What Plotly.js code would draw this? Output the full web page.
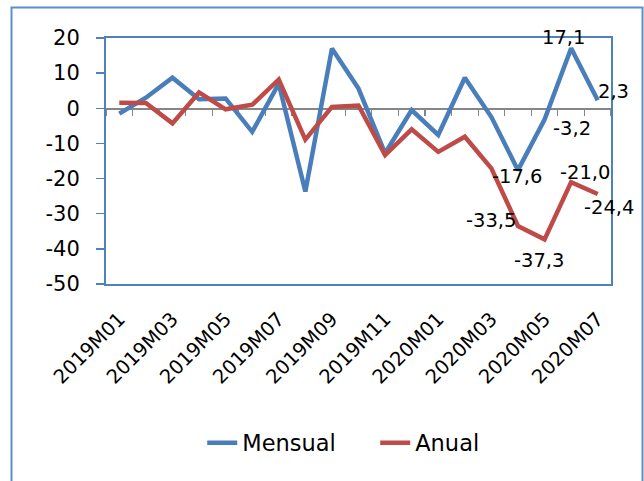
<!DOCTYPE html>
<html>
<head>
<meta charset="utf-8">
<script src="https://cdn.plot.ly/plotly-3.0.1.min.js"></script>
<style>html,body{margin:0;padding:0;background:#fff;}#chart{width:644px;height:481px;}</style>
</head>
<body>
<div id="chart"></div>
<script>
// ---- data ----
var categories = ["2019M01","2019M02","2019M03","2019M04","2019M05","2019M06","2019M07","2019M08","2019M09","2019M10","2019M11","2019M12","2020M01","2020M02","2020M03","2020M04","2020M05","2020M06","2020M07"];
var mensual = [-1.5, 3.0, 8.7, 2.6, 2.8, -6.7, 7.0, -23.7, 17.0, 5.6, -12.8, -0.5, -7.6, 8.7, -2.5, -17.6, -3.2, 17.1, 2.3];
var anual   = [1.6, 1.5, -4.3, 4.5, -0.3, 1.0, 8.2, -8.9, 0.4, 0.8, -13.3, -6.0, -12.4, -8.1, -17.1, -33.5, -37.3, -21.0, -24.4];
var tickLabels = ["2019M01","2019M03","2019M05","2019M07","2019M09","2019M11","2020M01","2020M03","2020M05","2020M07"];
var yTicks = [-50, -40, -30, -20, -10, 0, 10, 20];
var labeledIdxMensual = [15, 16, 17, 18];
var labeledIdxAnual = [15, 16, 17, 18];

// ---- styling ----
var FONT = "DejaVu Sans";
var BLUE = "#4A7EBB", RED = "#BE4B48", AXIS = "#4F81BD";
var offM = {15: [-1, -6], 16: [27, -9], 17: [-8, 11], 18: [16, 9]};
var offA = {15: [-27, 6], 16: [-6, -21], 17: [14, 10], 18: [11, -13]};

function fmt(v) { return v.toFixed(1).replace('.', ','); }

var traces = [
  {x: categories, y: categories.map(function(){return null;}), xaxis: 'x2', yaxis: 'y',
   mode: 'lines', showlegend: false, hoverinfo: 'skip'},
  {x: categories, y: mensual, name: 'Mensual', mode: 'lines',
   line: {color: BLUE, width: 4.5}},
  {x: categories, y: anual, name: 'Anual', mode: 'lines',
   line: {color: RED, width: 4.5}}
];

var annotations = [];
labeledIdxMensual.forEach(function(i){
  annotations.push({x: categories[i], y: mensual[i], text: fmt(mensual[i]), showarrow: false,
    xshift: offM[i][0], yshift: offM[i][1], font: {family: FONT, size: 19.5, color: '#000'}});
});
labeledIdxAnual.forEach(function(i){
  annotations.push({x: categories[i], y: anual[i], text: fmt(anual[i]), showarrow: false,
    xshift: offA[i][0], yshift: offA[i][1], font: {family: FONT, size: 19.5, color: '#000'}});
});

var layout = {
  width: 644, height: 481,
  margin: {l: 106, r: 33, t: 38, b: 197},
  paper_bgcolor: '#fff', plot_bgcolor: '#fff',
  font: {family: FONT, size: 19, color: '#000'},
  showlegend: true,
  legend: {orientation: 'h', xref: 'container', yref: 'container', x: 0.314, y: 0.079,
           xanchor: 'left', yanchor: 'middle', font: {family: FONT, size: 22.5, color: '#000'},
           itemwidth: 30, entrywidth: 128, entrywidthmode: 'pixels'},
  xaxis: {type: 'category', categoryorder: 'array', categoryarray: categories,
          range: [-0.5, categories.length - 0.5], showgrid: false, zeroline: false,
          showline: true, linecolor: AXIS, linewidth: 2, mirror: true, ticks: '',
          tickmode: 'array', tickvals: tickLabels, ticktext: tickLabels, tickangle: -45,
          ticklabelstandoff: 14, tickfont: {family: FONT, size: 19.5, color: '#000'}},
  xaxis2: {type: 'category', categoryorder: 'array', categoryarray: categories,
           overlaying: 'x', anchor: 'free', position: 50/70,
           range: [-0.5, categories.length - 0.5], showgrid: false, zeroline: false,
           showline: true, linecolor: '#868686', linewidth: 1.5, ticks: 'outside',
           tickson: 'boundaries', ticklen: 6, tickwidth: 1.2, tickcolor: '#868686',
           dtick: 1, showticklabels: false, layer: 'below traces'},
  yaxis: {range: [-50, 20], tickmode: 'array', tickvals: yTicks, ticktext: yTicks.map(String),
          showgrid: false, zeroline: false,
          showline: true, linecolor: AXIS, linewidth: 2, mirror: true, ticks: 'outside',
          ticklen: 8, tickwidth: 1.5, tickcolor: AXIS, ticklabelstandoff: 12,
          tickfont: {family: FONT, size: 21, color: '#000'}},
  shapes: [
    {type: 'rect', xref: 'paper', yref: 'paper', x0: -0.1871, x1: 1.0624, y0: -0.9, y1: 1.124,
     line: {color: '#5F8ECB', width: 2}, fillcolor: 'rgba(0,0,0,0)', layer: 'below'}
  ],
  annotations: annotations
};

Plotly.newPlot('chart', traces, layout, {displayModeBar: false, staticPlot: true});
</script>
</body>
</html>
